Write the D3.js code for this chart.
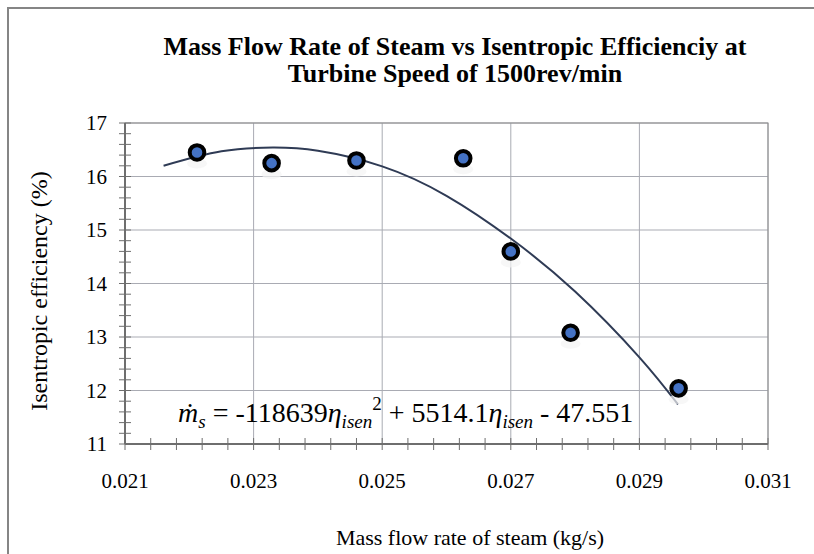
<!DOCTYPE html>
<html>
<head>
<meta charset="utf-8">
<script src="https://cdn.jsdelivr.net/npm/d3@7/dist/d3.min.js"></script>
<style>
  html, body { margin: 0; padding: 0; background: #fff; overflow: hidden; }
  svg { display: block; font-family: "Liberation Serif", "Times New Roman", serif; }
</style>
</head>
<body>
<div id="chart"></div>
<script>
// ------------------------------------------------------------
// data
// ------------------------------------------------------------
const massFlow = [0.02212, 0.02328, 0.02460, 0.02626, 0.02700, 0.02793, 0.02961];
const efficiency = [16.45, 16.25, 16.30, 16.34, 14.60, 13.08, 12.04];

// polynomial trendline
const trendX = [0.0216, 0.0225, 0.0233, 0.0240, 0.0250, 0.0260, 0.0270, 0.0280, 0.0290, 0.0296];
const trendY = [16.20, 16.47, 16.54, 16.48, 16.19, 15.64, 14.84, 13.85, 12.62, 11.74];

const xTicks = [0.021, 0.023, 0.025, 0.027, 0.029, 0.031];
const yTicks = [11, 12, 13, 14, 15, 16, 17];

const W = 814, H = 554;
const plot = { left: 125, right: 768, top: 123, bottom: 444 };

const svg = d3.select('#chart').append('svg')
    .attr('width', W).attr('height', H);

// chart area border (runs off the bottom/right)
svg.append('rect')
    .attr('x', 8).attr('y', 8)
    .attr('width', 900).attr('height', 700)
    .attr('fill', '#fff')
    .attr('stroke', '#858585').attr('stroke-width', 2);

const x = d3.scaleLinear().domain([0.021, 0.031]).range([plot.left, plot.right]);
const y = d3.scaleLinear().domain([11, 17]).range([plot.bottom, plot.top]);

// gridlines
svg.append('g').selectAll('line')
    .data(xTicks.slice(1))
    .join('line')
    .attr('x1', d => x(d)).attr('x2', d => x(d))
    .attr('y1', plot.top).attr('y2', plot.bottom)
    .attr('stroke', '#a9abb3').attr('stroke-width', 1);

svg.append('g').selectAll('line')
    .data(yTicks.slice(1))
    .join('line')
    .attr('x1', plot.left).attr('x2', plot.right)
    .attr('y1', d => y(d)).attr('y2', d => y(d))
    .attr('stroke', '#a9abb3').attr('stroke-width', 1);

// minor ticks crossing the axes
const xMinor = d3.range(0, 26).map(i => 0.021 + i * 0.0004);
const yMinor = d3.range(0, 31).map(i => 11 + i * 0.2);

svg.append('g').selectAll('line')
    .data(xMinor)
    .join('line')
    .attr('x1', d => x(d)).attr('x2', d => x(d))
    .attr('y1', plot.bottom - 6).attr('y2', plot.bottom + 6)
    .attr('stroke', '#6e6e6e').attr('stroke-width', 1);

svg.append('g').selectAll('line')
    .data(yMinor)
    .join('line')
    .attr('x1', plot.left - 6).attr('x2', plot.left + 6)
    .attr('y1', d => y(d)).attr('y2', d => y(d))
    .attr('stroke', '#6e6e6e').attr('stroke-width', 1);

// axis lines + right/top frame
svg.append('rect')
    .attr('x', plot.left).attr('y', plot.top)
    .attr('width', plot.right - plot.left).attr('height', plot.bottom - plot.top)
    .attr('fill', 'none').attr('stroke', '#8c8c8c').attr('stroke-width', 1);
svg.append('line')
    .attr('x1', plot.left).attr('x2', plot.left)
    .attr('y1', plot.top).attr('y2', plot.bottom)
    .attr('stroke', '#6e6e6e').attr('stroke-width', 2);
svg.append('line')
    .attr('x1', plot.left).attr('x2', plot.right)
    .attr('y1', plot.bottom).attr('y2', plot.bottom)
    .attr('stroke', '#6e6e6e').attr('stroke-width', 2);

// tick labels
svg.append('g').selectAll('text')
    .data(xTicks)
    .join('text')
    .attr('x', d => x(d)).attr('y', plot.bottom + 44)
    .attr('text-anchor', 'middle')
    .attr('font-size', 21)
    .text(d => d3.format('.3f')(d));

svg.append('g').selectAll('text')
    .data(yTicks)
    .join('text')
    .attr('x', plot.left - 18).attr('y', d => y(d) + 7)
    .attr('text-anchor', 'end')
    .attr('font-size', 21)
    .text(d => d);

// axis titles
svg.append('text')
    .attr('x', 470).attr('y', 545)
    .attr('text-anchor', 'middle')
    .attr('font-size', 22)
    .text('Mass flow rate of steam (kg/s)');

svg.append('text')
    .attr('transform', 'translate(47,291) rotate(-90)')
    .attr('text-anchor', 'middle')
    .attr('font-size', 24)
    .text('Isentropic efficiency (%)');

// chart title
const title = svg.append('text')
    .attr('text-anchor', 'middle')
    .attr('font-size', 26)
    .attr('font-weight', 'bold');
title.append('tspan').attr('x', 455).attr('y', 55)
    .text('Mass Flow Rate of Steam vs Isentropic Efficienciy at');
title.append('tspan').attr('x', 455).attr('y', 82)
    .text('Turbine Speed of 1500rev/min');

// trendline
const line = d3.line()
    .x((d, i) => x(trendX[i]))
    .y(d => y(d))
    .curve(d3.curveNatural);
svg.append('path')
    .datum(trendY)
    .attr('d', line)
    .attr('fill', 'none')
    .attr('stroke', '#2f3b55')
    .attr('stroke-width', 2);

// markers
const pts = massFlow.map((m, i) => ({ m, e: efficiency[i] }));
svg.append('g').selectAll('ellipse')
    .data(pts)
    .join('ellipse')
    .attr('cx', d => x(d.m)).attr('cy', d => y(d.e) + 11)
    .attr('rx', 10).attr('ry', 5)
    .attr('fill', '#f3f3f3').attr('opacity', 0.7);
svg.append('g').selectAll('circle')
    .data(pts)
    .join('circle')
    .attr('cx', d => x(d.m)).attr('cy', d => y(d.e))
    .attr('r', 7.3)
    .attr('fill', '#4472c4')
    .attr('stroke', '#000')
    .attr('stroke-width', 4);

// trendline equation
const eq = svg.append('text')
    .attr('x', 178).attr('y', 422)
    .attr('font-size', 28);
eq.append('tspan').attr('font-style', 'italic').text('m\u0307');
eq.append('tspan').attr('font-style', 'italic').attr('font-size', 19).attr('dy', 6).text('s');
eq.append('tspan').attr('dy', -6).text(' = -118639');
eq.append('tspan').attr('font-style', 'italic').text('\u03b7');
eq.append('tspan').attr('font-style', 'italic').attr('font-size', 19).attr('dy', 6).text('isen');
eq.append('tspan').attr('font-size', 19).attr('dy', -18).text('2');
eq.append('tspan').attr('dy', 12).text(' + 5514.1');
eq.append('tspan').attr('font-style', 'italic').text('\u03b7');
eq.append('tspan').attr('font-style', 'italic').attr('font-size', 19).attr('dy', 6).text('isen');
eq.append('tspan').attr('dy', -6).text(' - 47.551');
</script>
</body>
</html>
